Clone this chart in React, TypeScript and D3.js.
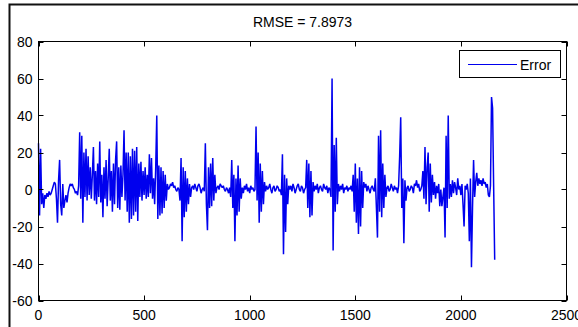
import React from "react";
import * as d3 from "d3";

const TITLE = "RMSE = 7.8973";
const SERIES_NAME = "Error";
const SAMPLE_STEP = 5;
const X_DOMAIN = [0, 2500];
const Y_DOMAIN = [-60, 80];
const X_TICKS = [0, 500, 1000, 1500, 2000, 2500];
const Y_TICKS = [-60, -40, -20, 0, 20, 40, 60, 80];

const ERROR_VALUES = [
  25, -14, 22, -8,
  -2, -10, -3, -5, -2, -4, -1, -3, -2, 0,
  2, 4, 3,
  -5, -18, 5, 16, -8, -14, 3, -10,
  -6, -3, -7, -2,
  1, 3, 2, 3, 1, 0,
  -2, -1, -3,
  2, 31, -5, 29, -18, 20, -4, 22, -6, 18, -3, 12, -5,
  8, 23, -6, 10, -8, 14, -4, 26, -7, 8, -15, 12, -5, 16, -9, 6, 22, -6, 10, -12, 14, -8,
  16, 26, -10, 12, -11, 13, -4, 8, 32, -6, 20, -12, 20, -18, 18, -16, 22, -14, 21, -12, 23, -17,
  14, -4, 15, -6, 10, -3, 12, -5, 8,
  -4, 19, -2, 17, -5,
  6, -8, 12, 40, -16, 13, -14, 12, -13, 10, -10, 8, -6, 3,
  0, 1, 3, 2, 4, 1, 2, 0, -1, 1, 0,
  -6, 17, -28, 12, -15, 10, -12, 6, -8, 3, -4,
  1, 2, 0, 3, 1, -1, 2, 3, 1, -2, 0, 1, -1,
  25, -8, -22, 12, -10, 14, -9, 17, -6, 8, -2,
  1, 2, 0, 3, 2, 1, 2, 0, -1, 1, 0, -2, 1,
  -4, 16, -10, 8, -28, 6, -14, 13, -12, 6, -5,
  1, -2, 2, 0, 3, -1, 1, -2, 2, 0, 1, -1, 0,
  34, -6, 20, -18, 14, -12, 10, -8, 4,
  -1, 2, 0, 1, 3, 0, -2, 1, 2, -1, 0, 2, 1, -1, 0,
  -3, 19, -35, 8, -23, 6, -8, 2,
  0, 2, -1, 3, 1, -2, 0, 2, 3, 0, -1, 2, 1, -2, 0, 1,
  16, -10, 14, -15, 10, -14, 4,
  -1, 2, 0, 3, -2, 1, 2, 0, -1, 3, 1, 0, 2, -2, 1, 0,
  -4, 60, -33, 24, -12, 28, -8,
  3, -1, 2, 0, 3, -2, 1, 0, 2, -1, 1, 0, 2, -1,
  8, -12, 14, -18, 6, -24, 12, -20, 10, -10, 4,
  1, 3, -1, 2, 0, -2, 1, 2, 0, -1,
  6, -10, -26, 29, -12, 32, -15, 14, -10, 8, -4,
  1, 2, -1, 0, 3, 1, -1, 2, 0, 1, -2, 2,
  18, 39, -10, 6, -29, 5, -6,
  1, 2, -1, 0, 2, 1, -2, 3, 2, 5, 1, 3, -1, 0, 2,
  10, -5, 23, -8, 12, 20, -12, 14, -7, 8,
  -3, 4, -5, 2, -2, 3, -9, 0,
  -9, -4, 1,
  -26, 29, -10, 40, -5,
  3, -4, 5, -2, 4, 1, -3, 6, 0, 2, -3, 3, -8,
  -20,
  2, 0, 3, -2,
  -28, 6, -42, -10,
  16, -4,
  4, 9, 2, 6, 3, 5, 2, 6, 3, 4, 1, 3, -3,
  -4, 2, 50, 44, 2, -38,
];

const FONT = "'Liberation Sans', Arial, Helvetica, sans-serif";

export default function App() {
  const W = 578;
  const H = 327;
  const L = 38.5, R = 566.5, T = 41.5, B = 300.5;
  const TICK = 5;

  const x = d3.scaleLinear().domain(X_DOMAIN).range([L, R]);
  const y = d3.scaleLinear().domain(Y_DOMAIN).range([B, T]);

  const line = d3
    .line<number>()
    .x((_, i) => x(i * SAMPLE_STEP))
    .y((d) => y(d));

  return (
    <svg
      width={W}
      height={H}
      viewBox={`0 0 ${W} ${H}`}
      style={{ position: "absolute", left: 0, top: 0, display: "block", background: "#fff" }}
      fontFamily={FONT}
    >
      <rect x={0} y={0} width={W} height={H} fill="#fff" />
      {/* outer frame */}
      <path d={`M9.5,${H} V4.5 H${W}`} fill="none" stroke="#111" strokeWidth={2} />

      {/* title */}
      <text x={(L + R) / 2} y={27} textAnchor="middle" fontSize={14} fill="#000">
        {TITLE}
      </text>

      {/* data */}
      <g>
        <path
          d={line(ERROR_VALUES) || ""}
          fill="none"
          stroke="#0000ee"
          strokeWidth={1.5}
          strokeLinejoin="miter"
          strokeMiterlimit={2}
        />
      </g>

      {/* axes box */}
      <rect x={L} y={T} width={R - L} height={B - T} fill="none" stroke="#000" strokeWidth={1} />

      {/* x ticks */}
      {X_TICKS.map((t) => (
        <g key={"x" + t}>
          <line x1={Math.round(x(t)) + 0.5} x2={Math.round(x(t)) + 0.5} y1={B} y2={B - TICK} stroke="#000" />
          <line x1={Math.round(x(t)) + 0.5} x2={Math.round(x(t)) + 0.5} y1={T} y2={T + TICK} stroke="#000" />
          <text x={x(t)} y={B + 19} textAnchor="middle" fontSize={14} fill="#000">
            {t}
          </text>
        </g>
      ))}

      {/* y ticks */}
      {Y_TICKS.map((t) => (
        <g key={"y" + t}>
          <line x1={L} x2={L + TICK} y1={Math.round(y(t)) + 0.5} y2={Math.round(y(t)) + 0.5} stroke="#000" />
          <line x1={R} x2={R - TICK} y1={Math.round(y(t)) + 0.5} y2={Math.round(y(t)) + 0.5} stroke="#000" />
          <text x={L - 6} y={y(t) + 5} textAnchor="end" fontSize={14} fill="#000">
            {t}
          </text>
        </g>
      ))}

      {/* legend */}
      <g>
        <rect x={459.5} y={50.5} width={101} height={27} fill="#fff" stroke="#000" strokeWidth={1} />
        <line x1={468} x2={517} y1={64.5} y2={64.5} stroke="#0000ee" strokeWidth={1} />
        <text x={520} y={70} fontSize={14} fill="#000">
          {SERIES_NAME}
        </text>
      </g>
    </svg>
  );
}
